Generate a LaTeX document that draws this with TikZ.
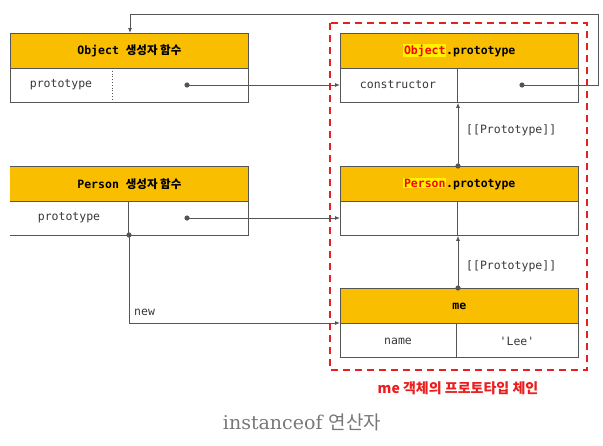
\documentclass[tikz,border=0pt]{standalone}
\usepackage{fontspec}
\newfontfamily\monof{DejaVu Sans Mono}
\newfontfamily\krf{Noto Sans CJK KR}
\newfontfamily\serf{DejaVu Serif}
\usetikzlibrary{arrows.meta}
\definecolor{hdrc}{RGB}{250,190,0}
\definecolor{linec}{RGB}{85,85,85}
\definecolor{txtc}{RGB}{55,55,55}
\definecolor{capc}{RGB}{120,120,120}
\definecolor{redc}{RGB}{235,30,30}
\tikzset{
  hdr/.style={draw=linec, line width=0.8pt, fill=hdrc, minimum width=238pt, minimum height=35pt, inner sep=0pt, anchor=north west, font=\monof\bfseries\fontsize{11.5}{13}\selectfont},
  rowbox/.style={draw=linec, line width=0.8pt, minimum width=238pt, minimum height=34pt, inner sep=0pt, anchor=north west},
  celltxt/.style={text=txtc, font=\monof\fontsize{11.5}{13}\selectfont, inner sep=1pt},
  conn/.style={draw=linec, line width=0.8pt},
  arr/.style={conn, -{Latex[length=5pt,width=4pt]}},
  lbl/.style={text=txtc, font=\monof\fontsize{11.5}{13}\selectfont, inner sep=1pt}
}
\newcommand{\hlred}[1]{{\setlength{\fboxsep}{0.6pt}\colorbox{yellow}{\textcolor{red}{#1}}}}
\begin{document}
\begin{tikzpicture}[x=1pt,y=-1pt]
\useasboundingbox (0,0) rectangle (603,445);
% red dashed frame
\draw[redc, line width=1.8pt, dash pattern=on 7pt off 5pt] (330,23) rectangle (587,370);
\node[text=redc, font=\krf\bfseries\fontsize{14}{16}\selectfont] (chain) at (458,388) {me 객체의 프로토타입 체인};

% Object constructor
\node[hdr] (oc) at (10,33) {Object {\krf\bfseries 생성자 함수}};
\node[rowbox] (ocrow) at (10,68) {};
\draw[linec, line width=0.8pt, dotted] (112,68) -- (112,102);
\node[celltxt] (ocl) at (61,85) {prototype};

% Object.prototype
\node[hdr] (op) at (340,33) {\hlred{Object}.prototype};
\node[rowbox] (oprow) at (340,68) {};
\draw[conn] (457,68) -- (457,102);
\node[celltxt] (opl) at (398,85) {constructor};

% Person constructor
\node[hdr, draw=none] (pc) at (10,166) {Person {\krf\bfseries 생성자 함수}};
\draw[conn] (pc.north west) -- (pc.north east) -- (pc.south east);
\draw[conn] (pc.south west) -- (pc.south east);
\node[rowbox, draw=none] (pcrow) at (10,201) {};
\draw[conn] (pcrow.north east) -- (pcrow.south east) -- (pcrow.south west);
\draw[conn] (128,201) -- (128,235);
\node[celltxt] (pcl) at (69,218) {prototype};

% Person.prototype
\node[hdr] (pp) at (340,166) {\hlred{Person}.prototype};
\node[rowbox] (pprow) at (340,201) {};
\draw[conn] (457,201) -- (457,235);

% me
\node[hdr] (me) at (340,288) {me};
\node[rowbox] (merow) at (340,323) {};
\draw[conn] (456,323) -- (456,358);
\node[celltxt] (name) at (398,341) {name};
\node[celltxt] (lee) at (517,341) {'Lee'};

% dots / coordinates
\coordinate (d1) at (187,85);
\coordinate (d2) at (522,85);
\coordinate (d3) at (187,218);
\coordinate (d4) at (129,235);
\coordinate (d5) at (458,166);
\coordinate (d6) at (458,288);
\coordinate (rt) at (598,14);
\coordinate (lt) at (130,14);
\coordinate (nb) at (129,323);
\foreach \d in {d1,d2,d3,d4,d5,d6} \fill[linec] (\d) circle (2.6pt);

% connectors
\draw[arr] (d1) -- (d1 -| oprow.west);
\draw[arr] (d2) -| (rt) -- (lt) -- (lt |- oc.north);
\draw[arr] (d3) -- (d3 -| pprow.west);
\draw[arr] (d4) -- (nb) -- (nb -| me.south west);
\draw[arr] (d5) -- (d5 |- oprow.south);
\draw[arr] (d6) -- (d6 |- pprow.south);

% labels
\node[lbl, anchor=west] (newl) at (133,312) {new};
\node[lbl, anchor=west] (pl1) at (465,130) {[[Prototype]]};
\node[lbl, anchor=west] (pl2) at (465,266) {[[Prototype]]};

% caption
\node[text=capc, font=\serf\fontsize{19}{22}\selectfont] (cap) at (302,422) {instanceof {\krf\fontsize{19}{22}\selectfont 연산자}};
\end{tikzpicture}
\end{document}
